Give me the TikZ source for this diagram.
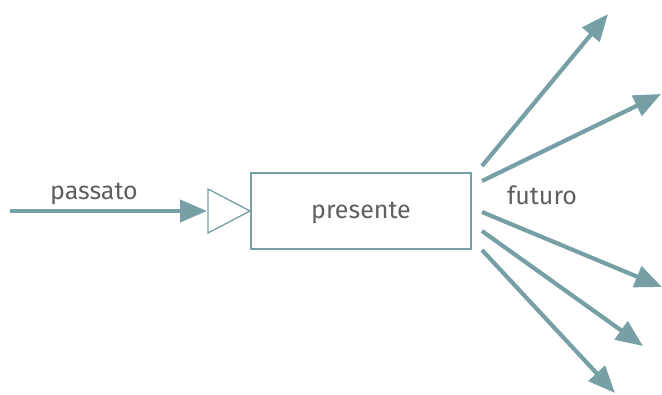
\documentclass[tikz,border=0pt]{standalone}
\usepackage{fontspec}
\setmainfont{Fira Sans}
\usetikzlibrary{arrows.meta}
\definecolor{teal}{HTML}{77A0A6}
\definecolor{txt}{HTML}{5F5F5F}
\tikzset{
  flow/.style={draw=teal, line width=4.2pt, -{Triangle[length=27pt,width=22pt]}},
  lbl/.style={text=txt, font=\fontsize{25}{30}\selectfont, inner sep=0pt},
}
\begin{document}
\begin{tikzpicture}[x=1pt,y=-1pt]
\useasboundingbox (0,0) rectangle (662,394);
% present box and input triangle
\node[draw=teal, line width=1.3pt, minimum width=220pt, minimum height=76pt, inner sep=0pt] (pres) at (361,211) {};
\node[lbl] (prestxt) at (361,213) {presente};
\coordinate (ta) at (208,189);
\coordinate (tb) at (208,233);
\coordinate (tc) at (250,211);
\draw[teal, line width=1.3pt, fill=white] (ta) -- (tc) -- (tb) -- cycle;
% past
\coordinate (p0) at (10,211);
\coordinate (p1) at (207,211);
\draw[flow] (p0) -- (p1);
\node[lbl] (past) at (94,194) {passato};
% futures
\node[lbl] (fut) at (542,195) {futuro};
\coordinate (s1) at (482,166); \coordinate (e1) at (608,14);
\coordinate (s2) at (482,181); \coordinate (e2) at (661,94);
\coordinate (s3) at (482,212); \coordinate (e3) at (662,287);
\coordinate (s4) at (482,231); \coordinate (e4) at (643,346);
\coordinate (s5) at (482,250); \coordinate (e5) at (615,393);
\foreach \i in {1,...,5} \draw[flow] (s\i) -- (e\i);
\end{tikzpicture}
\end{document}
